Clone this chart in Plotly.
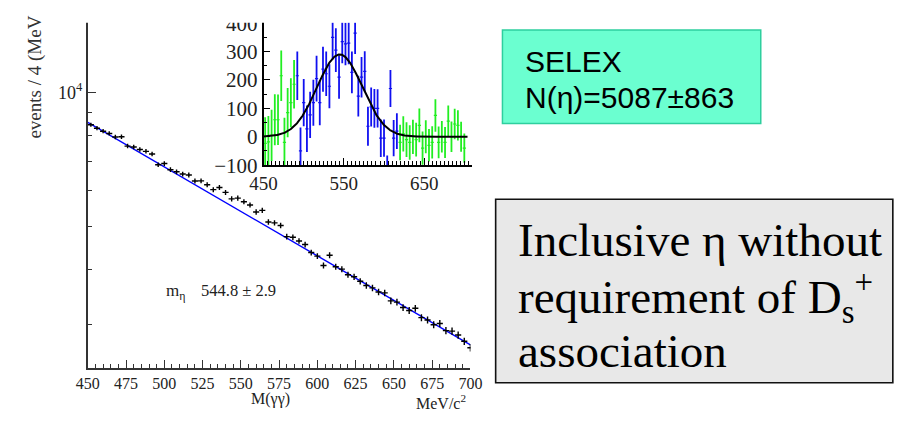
import math
import plotly.graph_objects as go

# ---- data -------------------------------------------------------------
# di-photon mass bin centres (MeV/c^2), 4 MeV bins
mass_bins = list(range(452, 701, 4))

# events per bin, inclusive gamma-gamma spectrum
counts = [8449, 8299, 8171, 8077, 7930, 7942, 7566, 7532, 7431, 7363,
          7262, 6868, 6912, 6696, 6623, 6547, 6515, 6314, 6319, 6192,
          6039, 6104, 5954, 5756, 5780, 5673, 5578, 5379, 5423, 5109,
          5085, 5016, 4736, 4718, 4629, 4546, 4360, 4280, 4077, 4300,
          4050, 4001, 3888, 3847, 3757, 3678, 3631, 3554, 3539, 3396,
          3373, 3281, 3231, 3267, 3113, 3076, 3000, 3020, 2911, 2903,
          2845, 2754, 2664]

# background-subtracted yield per bin (inset)
residuals = [-23, -18, 5, 60, 60, 215, -20, 85, 120, 185,
             215, -50, 120, 28, 77, 120, 205, 120, 238, 222,
             178, 350, 305, 210, 335, 327, 330, 227, 365, 143,
             210, 230, 37, 105, 100, 100, -5, -5, -130, 170,
             -5, 20, -20, 10, -10, -20, 0, -10, 40, -40,
             0, -30, -20, 75, -20, 0, -20, 55, 0, 45,
             40, 0, -40]

# fitted smooth background
bkg_mass = [450, 500, 550, 600, 650, 700]
bkg_counts = [8551, 6792, 5395, 4285, 3404, 2704]

# eta peak fit parameters
m_eta = 544.8
m_eta_err = 2.9
sigma_eta = 28.0
n_eta = 5087
n_eta_err = 863
bin_width = 4.0

# signal window drawn in blue in the inset
sig_lo, sig_hi = 490, 616

W, H = 899, 424


def px(x):
    return x / W


def py(y):
    return 1 - y / H


serif = "Liberation Serif"
sans = "Liberation Sans"
axis_col = "#333333"

fig = go.Figure()

# main spectrum: background fit and data
fig.add_trace(go.Scatter(
    x=bkg_mass, y=bkg_counts, mode="lines",
    line=dict(color="#0000FF", width=1.4), xaxis="x", yaxis="y",
    hoverinfo="skip"))
fig.add_trace(go.Scatter(
    x=mass_bins, y=counts, mode="markers",
    marker=dict(size=1, color="black"),
    error_x=dict(type="constant", value=bin_width / 2, color="black",
                 thickness=1.4, width=0),
    error_y=dict(type="data", array=[math.sqrt(c) for c in counts],
                 color="black", thickness=1.4, width=0),
    xaxis="x", yaxis="y"))

# inset: background-subtracted points
errs = [math.sqrt(c) for c in counts]
for colour, sel in (("#22EE22", lambda m: m < sig_lo or m > sig_hi),
                    ("#1010F0", lambda m: sig_lo <= m <= sig_hi)):
    idx = [i for i, m in enumerate(mass_bins) if sel(m)]
    fig.add_trace(go.Scatter(
        x=[mass_bins[i] for i in idx], y=[residuals[i] for i in idx],
        mode="markers", marker=dict(size=1, color=colour),
        error_x=dict(type="constant", value=bin_width / 2, color=colour,
                     thickness=1.2, width=0),
        error_y=dict(type="data", array=[errs[i] for i in idx],
                     color=colour, thickness=1.8, width=0),
        xaxis="x2", yaxis="y2"))

# inset: gaussian peak fit
amp = n_eta * bin_width / (sigma_eta * math.sqrt(2 * math.pi))
gx = [450 + 0.5 * k for k in range(0, 2 * 254 + 1)]
gy = [amp * math.exp(-0.5 * ((m - m_eta) / sigma_eta) ** 2) for m in gx]
fig.add_trace(go.Scatter(
    x=gx, y=gy, mode="lines", line=dict(color="black", width=2),
    xaxis="x2", yaxis="y2", hoverinfo="skip"))

tick_font = dict(family=serif, size=16, color="#222222")

fig.update_layout(
    width=W, height=H, margin=dict(l=0, r=0, t=0, b=0),
    paper_bgcolor="white", plot_bgcolor="rgba(0,0,0,0)",
    showlegend=False,
    xaxis=dict(
        domain=[px(76), px(470)], range=[450, 700],
        showline=True, linecolor=axis_col, linewidth=1.6, mirror=False,
        showgrid=False, zeroline=False,
        ticks="inside", ticklen=8, tickwidth=1.3, tickcolor=axis_col,
        tickvals=list(range(450, 701, 25)), tickfont=tick_font,
        minor=dict(ticks="inside", ticklen=4, tickwidth=1.1,
                   tickcolor=axis_col, dtick=5, showgrid=False),
        anchor="y"),
    yaxis=dict(
        domain=[py(377), py(12)], type="log",
        range=[3.381, 4.157],
        showline=True, linecolor=axis_col, linewidth=1.6,
        showgrid=False, zeroline=False,
        ticks="inside", ticklen=8, tickwidth=1.3, tickcolor=axis_col,
        tickvals=[10000], ticktext=["10<sup>4</sup>"],
        tickfont=dict(family=serif, size=18, color="#222222"),
        minor=dict(ticks="inside", ticklen=4, tickwidth=1.1,
                   tickcolor=axis_col, tickmode="array",
                   tickvals=[3000, 4000, 5000, 6000, 7000, 8000, 9000],
                   showgrid=False),
        anchor="x"),
    xaxis2=dict(
        domain=[px(257), px(472)], range=[450, 710],
        showline=True, linecolor="black", linewidth=1.6,
        showgrid=False, zeroline=False,
        ticks="inside", ticklen=7, tickwidth=1.3, tickcolor="black",
        tickvals=[450, 550, 650],
        tickfont=dict(family=serif, size=19, color="#222222"),
        minor=dict(ticks="inside", ticklen=4, tickwidth=1.1,
                   tickcolor="black", dtick=5, showgrid=False),
        anchor="y2"),
    yaxis2=dict(
        domain=[py(163), py(12)], range=[-100, 403],
        showline=True, linecolor="black", linewidth=1.6,
        showgrid=False, zeroline=False,
        ticks="inside", ticklen=7, tickwidth=1.3, tickcolor="black",
        tickvals=[-100, 0, 100, 200, 300, 400],
        tickfont=dict(family=serif, size=21, color="#222222"),
        minor=dict(ticks="inside", ticklen=4, tickwidth=1.1,
                   tickcolor="black", dtick=50, showgrid=False),
        anchor="x2"),
)

shapes = [
    # page strip above the embedded plot
    dict(type="rect", xref="paper", yref="paper", x0=0, x1=px(492),
         y0=py(12.5), y1=1, fillcolor="white", line=dict(width=0),
         layer="above"),
    # SELEX yield box
    dict(type="rect", xref="paper", yref="paper", x0=px(503), x1=px(769),
         y0=py(119), y1=py(20), fillcolor="#6BFFD0",
         line=dict(color="#2ECF9E", width=1.5), layer="above"),
    # description box
    dict(type="rect", xref="paper", yref="paper", x0=px(496), x1=px(905),
         y0=py(393), y1=py(199), fillcolor="#E8E8E8",
         line=dict(color="#111111", width=1.6), layer="above"),
]
fig.update_layout(shapes=shapes)

ann = [
    dict(text="events / 4 (MeV", x=px(22), y=py(70), textangle=-90,
         font=dict(family=serif, size=19, color="#333333")),
    dict(text="M(\u03b3\u03b3)", x=px(264), y=py(410),
         font=dict(family=serif, size=16, color="#222222")),
    dict(text="MeV/c<sup>2</sup>", x=px(440), y=py(413),
         font=dict(family=serif, size=16, color="#222222")),
    dict(text="m<sub>\u03b7</sub>", x=px(154), y=py(297), xanchor="left",
         font=dict(family=serif, size=17, color="#222222")),
    dict(text=f"{m_eta:.1f} \u00b1 {m_eta_err:.1f}", x=px(191), y=py(296),
         xanchor="left",
         font=dict(family=serif, size=16.5, color="#222222")),
    dict(text="SELEX", x=px(524), y=py(53), xanchor="left",
         font=dict(family=sans, size=30, color="black")),
    dict(text=f"N(\u03b7)={n_eta}\u00b1{n_eta_err}", x=px(524), y=py(91),
         xanchor="left",
         font=dict(family=sans, size=30, color="black")),
    dict(text="Inclusive \u03b7 without", x=px(517), y=py(242),
         xanchor="left",
         font=dict(family=serif, size=47, color="black")),
    dict(text="requirement of D<sub>s</sub><sup>+</sup>", x=px(517),
         y=py(302), xanchor="left",
         font=dict(family=serif, size=47, color="black")),
    dict(text="association", x=px(517), y=py(360), xanchor="left",
         font=dict(family=serif, size=47, color="black")),
]
for a in ann:
    a.setdefault("xanchor", "center")
    a.update(xref="paper", yref="paper", yanchor="middle", showarrow=False)
fig.update_layout(annotations=ann)

fig.write_html("out.html")
